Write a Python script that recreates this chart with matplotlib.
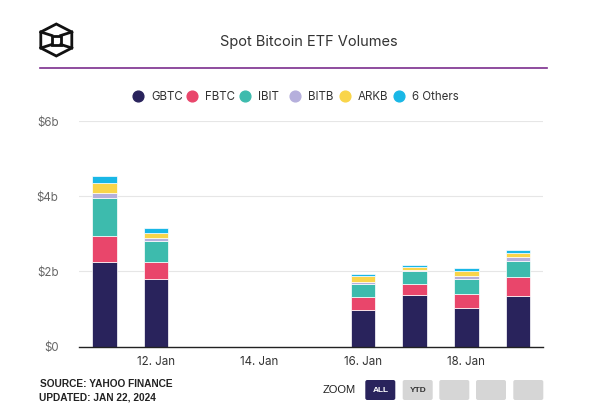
import matplotlib
matplotlib.use("Agg")
import matplotlib.pyplot as plt
from matplotlib.patches import FancyBboxPatch, Polygon, Rectangle
import numpy as np

plt.rcParams['font.family'] = ['Inter', 'DejaVu Sans']

# ---- data (values in $ billions) ----
days = [11, 12, 16, 17, 18, 19]          # January 2024
tick_days = [12, 14, 16, 18]
tick_labels = ["12. Jan", "14. Jan", "16. Jan", "18. Jan"]
series_names = ["GBTC", "FBTC", "IBIT", "BITB", "ARKB", "6 Others"]
GBTC = [2.26, 1.81, 0.98, 1.38, 1.04, 1.35]
FBTC = [0.69, 0.43, 0.33, 0.30, 0.37, 0.51]
IBIT = [1.01, 0.58, 0.37, 0.34, 0.40, 0.43]
BITB = [0.12, 0.07, 0.04, 0.02, 0.07, 0.10]
ARKB = [0.28, 0.14, 0.16, 0.08, 0.12, 0.11]
OTHERS = [0.17, 0.12, 0.06, 0.06, 0.10, 0.08]
y_ticks = [0, 2, 4, 6]
y_tick_labels = ["$0", "$2b", "$4b", "$6b"]

colors = ["#29235c", "#e9466b", "#3dbbad", "#b5afdc", "#f9d54a", "#19b7e6"]

W, H = 594, 409
fig = plt.figure(figsize=(W / 100, H / 100), dpi=100)

# main chart axes (pixel-derived position)
x0, x1 = 79.3, 543.3
y_top, y_bot = 121.0, 346.7
ax = fig.add_axes([x0 / W, (H - y_bot) / H, (x1 - x0) / W, (y_bot - y_top) / H])

bottom = np.zeros(len(days))
for name, vals, c in zip(series_names, [GBTC, FBTC, IBIT, BITB, ARKB, OTHERS], colors):
    ax.bar(days, vals, width=0.476, bottom=bottom, color=c, edgecolor="white",
           linewidth=0.5, zorder=3)
    bottom += np.array(vals)

ax.set_xlim(10.516, 19.49)
ax.set_ylim(0, 6)
ax.set_yticks(y_ticks)
ax.set_yticklabels(y_tick_labels, color="#666666", fontsize=8.3)
ax.set_xticks(tick_days)
ax.set_xticklabels(tick_labels, color="#333333", fontsize=8.3)
ax.tick_params(axis="y", length=0, pad=15)
ax.tick_params(axis="x", length=0, pad=7)
ax.grid(axis="y", color="#e6e6e6", linewidth=0.8, zorder=0)
for s in ["top", "right", "left"]:
    ax.spines[s].set_visible(False)
ax.spines["bottom"].set_color("#222222")
ax.spines["bottom"].set_linewidth(1.0)
ax.spines["bottom"].set_zorder(4)

# overlay in pixel coordinates for header / footer decoration
ov = fig.add_axes([0, 0, 1, 1], zorder=-1)
ov.set_xlim(0, W)
ov.set_ylim(H, 0)
ov.axis("off")

# logo: hexagonal cube outline
cx, cy = 56.3, 40.0
hx = [cx, cx + 15.5, cx + 15.5, cx, cx - 15.5, cx - 15.5]
hy = [cy - 16, cy - 8, cy + 8, cy + 16, cy + 8, cy - 8]
ov.add_patch(Polygon(list(zip(hx, hy)), closed=True, fill=False, edgecolor="#111111", linewidth=2.0))
sq = 4.5
ov.add_patch(Rectangle((cx - sq, cy - sq), 2 * sq, 2 * sq, fill=False, edgecolor="#111111", linewidth=2.0))
for (ix, iy), (vx, vy) in [((cx - sq, cy - sq), (hx[5], hy[5])), ((cx + sq, cy - sq), (hx[1], hy[1])),
                           ((cx - sq, cy + sq), (hx[4], hy[4])), ((cx + sq, cy + sq), (hx[2], hy[2]))]:
    ov.plot([ix, vx], [iy, vy], color="#111111", linewidth=2.0)

# title and divider
ov.text(309, 42, "Spot Bitcoin ETF Volumes", ha="center", va="center", fontsize=10.5, color="#333333")
ov.plot([40, 547], [67.5, 67.5], color="#7b2d8e", linewidth=1.2)

# legend
leg_circle_x = [138, 192, 245, 295, 345, 399]
for name, c, lx in zip(series_names, colors, leg_circle_x):
    ov.scatter([lx], [96], s=60, color=c, zorder=3)
    ov.text(lx + 13, 96.5, name, ha="left", va="center", fontsize=8.3, color="#333333")

# footer
ov.text(40, 384, "SOURCE: YAHOO FINANCE", ha="left", va="center", fontsize=7.3,
        color="#222222", fontweight="bold", family=["Liberation Sans", "DejaVu Sans"])
ov.text(39, 397, "UPDATED: JAN 22, 2024", ha="left", va="center", fontsize=7.3,
        color="#222222", fontweight="bold", family=["Liberation Sans", "DejaVu Sans"])
ov.text(323, 390, "ZOOM", ha="left", va="center", fontsize=8, color="#222222",
        family=["Liberation Sans", "DejaVu Sans"])
btns = [(364.3, "#29235c", "ALL", "white"), (401.7, "#d6d6d6", "YTD", "#333333"),
        (438.3, "#d6d6d6", "", None), (475.0, "#d6d6d6", "", None), (512.3, "#d6d6d6", "", None)]
for bx, bc, bt, tc in btns:
    ov.add_patch(FancyBboxPatch((bx + 1, 380), 30, 20, boxstyle="round,pad=0,rounding_size=2",
                                facecolor=bc, edgecolor="none"))
    if bt:
        ov.text(bx + 16, 391, bt, ha="center", va="center", fontsize=6, color=tc,
                fontweight="bold", family=["Liberation Sans", "DejaVu Sans"])

fig.savefig("out.png", dpi=100, facecolor="white")
